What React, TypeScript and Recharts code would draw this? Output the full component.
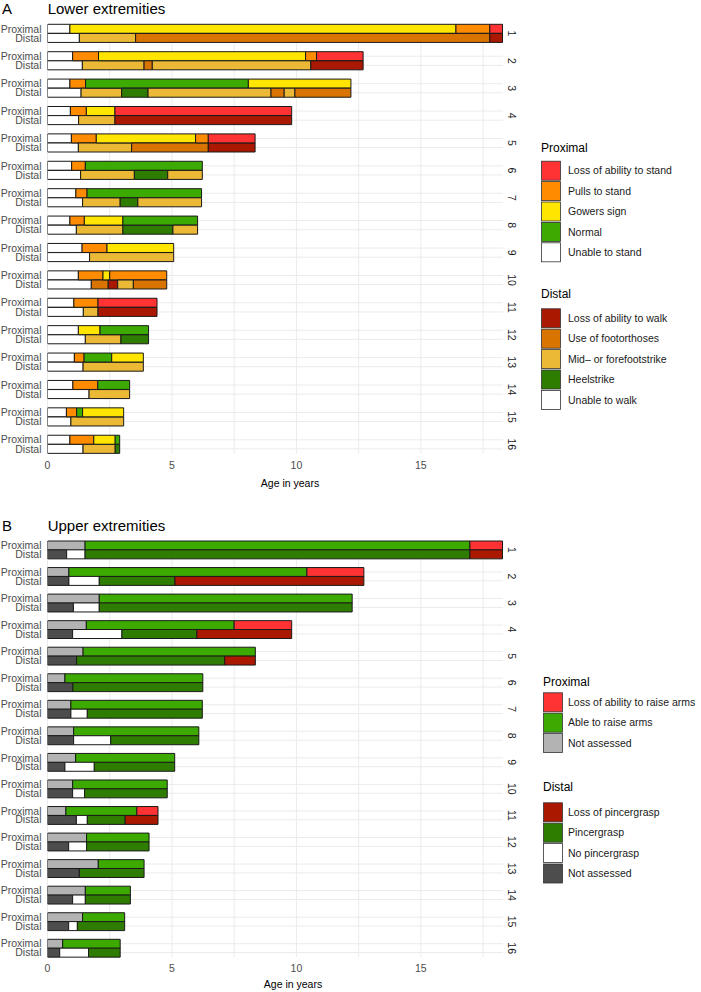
import { BarChart, Bar, Cell, XAxis, YAxis, CartesianGrid } from 'recharts';

type Seg = [string, number];
type LegendItem = { key: string; label: string; color: string };

const patients = ['1', '2', '3', '4', '5', '6', '7', '8', '9', '10', '11', '12', '13', '14', '15', '16'];
const ageTicks = [0, 5, 10, 15];
const gridAges = [0, 2.5, 5, 7.5, 10, 12.5, 15, 17.5];
const maxAge = 18.3;

const lowerProximalLegend: LegendItem[] = [
  { key: 'L', label: 'Loss of ability to stand', color: '#ff3333' },
  { key: 'P', label: 'Pulls to stand', color: '#ff8c00' },
  { key: 'G', label: 'Gowers sign', color: '#ffe500' },
  { key: 'N', label: 'Normal', color: '#3caa00' },
  { key: 'U', label: 'Unable to stand', color: '#ffffff' },
];

const lowerDistalLegend: LegendItem[] = [
  { key: 'L', label: 'Loss of ability to walk', color: '#aa1800' },
  { key: 'F', label: 'Use of footorthoses', color: '#d97400' },
  { key: 'M', label: 'Mid\u2013 or forefootstrike', color: '#ebb935' },
  { key: 'H', label: 'Heelstrike', color: '#2e7d00' },
  { key: 'U', label: 'Unable to walk', color: '#ffffff' },
];

const upperProximalLegend: LegendItem[] = [
  { key: 'L', label: 'Loss of ability to raise arms', color: '#ff3333' },
  { key: 'A', label: 'Able to raise arms', color: '#3caa00' },
  { key: 'N', label: 'Not assessed', color: '#b3b3b3' },
];

const upperDistalLegend: LegendItem[] = [
  { key: 'L', label: 'Loss of pincergrasp', color: '#aa1800' },
  { key: 'P', label: 'Pincergrasp', color: '#2e7d00' },
  { key: 'W', label: 'No pincergrasp', color: '#ffffff' },
  { key: 'N', label: 'Not assessed', color: '#4d4d4d' },
];

// each segment: [state, age at end of segment]
const lowerProximal: Seg[][] = [
  [['U', 0.9], ['G', 16.41], ['P', 17.77], ['L', 18.28]],
  [['U', 1.01], ['P', 2.05], ['G', 10.37], ['P', 10.81], ['L', 12.68]],
  [['U', 0.9], ['P', 1.53], ['N', 8.07], ['G', 12.19]],
  [['U', 0.92], ['P', 1.56], ['G', 2.71], ['L', 9.81]],
  [['U', 0.96], ['P', 1.96], ['G', 5.95], ['P', 6.46], ['L', 8.34]],
  [['U', 0.97], ['P', 1.52], ['N', 6.22]],
  [['U', 1.14], ['P', 1.59], ['N', 6.19]],
  [['U', 0.9], ['P', 1.48], ['G', 3.03], ['N', 6.03]],
  [['U', 1.39], ['P', 2.39], ['G', 5.07]],
  [['U', 1.24], ['P', 2.23], ['G', 2.5], ['P', 4.79]],
  [['U', 1.06], ['P', 2.03], ['L', 4.4]],
  [['U', 1.24], ['G', 2.11], ['N', 4.06]],
  [['U', 1.08], ['P', 1.47], ['N', 2.58], ['G', 3.85]],
  [['U', 1.02], ['P', 2.02], ['N', 3.3]],
  [['U', 0.76], ['P', 1.17], ['N', 1.41], ['G', 3.06]],
  [['U', 0.9], ['P', 1.86], ['G', 2.72], ['N', 2.9]],
];

const lowerDistal: Seg[][] = [
  [['U', 1.28], ['M', 3.54], ['F', 17.77], ['L', 18.28]],
  [['U', 1.4], ['M', 3.88], ['F', 4.21], ['M', 10.58], ['L', 12.68]],
  [['U', 1.35], ['M', 2.98], ['H', 4.04], ['M', 8.98], ['F', 9.51], ['M', 9.94], ['F', 12.19]],
  [['U', 1.25], ['M', 2.71], ['L', 9.81]],
  [['U', 1.24], ['M', 3.38], ['F', 6.46], ['L', 8.34]],
  [['U', 1.33], ['M', 3.49], ['H', 4.83], ['M', 6.22]],
  [['U', 1.41], ['M', 2.92], ['H', 3.63], ['M', 6.19]],
  [['U', 1.16], ['M', 3.03], ['H', 5.04], ['M', 6.03]],
  [['U', 1.69], ['M', 5.07]],
  [['U', 1.76], ['F', 2.44], ['L', 2.82], ['M', 3.45], ['F', 4.79]],
  [['U', 1.44], ['M', 2.03], ['L', 4.4]],
  [['U', 1.52], ['M', 2.95], ['H', 4.06]],
  [['U', 1.43], ['M', 3.85]],
  [['U', 1.67], ['M', 3.3]],
  [['U', 0.94], ['M', 3.06]],
  [['U', 1.43], ['M', 2.72], ['H', 2.9]],
];

const upperProximal: Seg[][] = [
  [['N', 1.51], ['A', 16.97], ['L', 18.28]],
  [['N', 0.86], ['A', 10.42], ['L', 12.71]],
  [['N', 2.08], ['A', 12.24]],
  [['N', 1.56], ['A', 7.5], ['L', 9.81]],
  [['N', 1.43], ['A', 8.35]],
  [['N', 0.7], ['A', 6.24]],
  [['N', 0.94], ['A', 6.22]],
  [['N', 1.05], ['A', 6.08]],
  [['N', 1.13], ['A', 5.11]],
  [['N', 1.01], ['A', 4.81]],
  [['N', 0.74], ['A', 3.59], ['L', 4.44]],
  [['N', 1.57], ['A', 4.08]],
  [['N', 2.04], ['A', 3.88]],
  [['N', 1.52], ['A', 3.33]],
  [['N', 1.41], ['A', 3.1]],
  [['N', 0.61], ['A', 2.92]],
];

const upperDistal: Seg[][] = [
  [['N', 0.77], ['W', 1.51], ['P', 16.97], ['L', 18.28]],
  [['N', 0.86], ['W', 2.08], ['P', 5.12], ['L', 12.71]],
  [['N', 1.04], ['W', 2.08], ['P', 12.24]],
  [['N', 1.01], ['W', 2.99], ['P', 6.0], ['L', 9.81]],
  [['N', 1.17], ['P', 7.12], ['L', 8.35]],
  [['N', 1.02], ['P', 6.24]],
  [['N', 0.94], ['W', 1.6], ['P', 6.22]],
  [['N', 1.05], ['W', 2.54], ['P', 6.08]],
  [['N', 0.7], ['W', 1.88], ['P', 5.11]],
  [['N', 1.01], ['W', 1.49], ['P', 4.81]],
  [['N', 1.16], ['W', 1.6], ['P', 3.12], ['L', 4.44]],
  [['N', 0.85], ['W', 1.57], ['P', 4.08]],
  [['N', 1.28], ['P', 3.88]],
  [['N', 1.01], ['W', 1.52], ['P', 3.33]],
  [['N', 0.85], ['W', 1.2], ['P', 3.1]],
  [['N', 0.49], ['W', 1.65], ['P', 2.92]],
];

const FONT = '"Liberation Sans", Arial, Helvetica, sans-serif';
const PLOT_LEFT = 47.5;
const PLOT_RIGHT = 503;
const NUM_X = 512;

const colorMap = (items: LegendItem[]) =>
  Object.fromEntries(items.map((d) => [d.key, d.color])) as Record<string, string>;

function makeRow(name: string, segs: Seg[], colors: Record<string, string>) {
  const r: any = { row: name, fills: [] as string[] };
  let prev = 0;
  segs.forEach(([k, end], j) => {
    r[`s${j}`] = +(end - prev).toFixed(3);
    r.fills.push(colors[k]);
    prev = end;
  });
  return r;
}

function buildRows(prox: Seg[][], dist: Seg[][], pLeg: LegendItem[], dLeg: LegendItem[]) {
  const pc = colorMap(pLeg);
  const dc = colorMap(dLeg);
  const rows: any[] = [];
  patients.forEach((p, i) => {
    rows.push(makeRow(`${p}|Proximal`, prox[i], pc));
    rows.push(makeRow(`${p}|Distal`, dist[i], dc));
    if (i < patients.length - 1) rows.push({ row: `${p}|gap`, fills: [] });
  });
  return rows;
}

const lowerRows = buildRows(lowerProximal, lowerDistal, lowerProximalLegend, lowerDistalLegend);
const upperRows = buildRows(upperProximal, upperDistal, upperProximalLegend, upperDistalLegend);

function Panel({ rows, top, height, marginTop, marginBottom }: any) {
  const plotH = height - marginTop - marginBottom - 30;
  const band = plotH / rows.length;
  const nSeg = Math.max(...rows.map((r: any) => r.fills.length));
  const plotW = PLOT_RIGHT - PLOT_LEFT;

  const hPoints = rows.flatMap((r: any, i: number) =>
    r.row.endsWith('gap') ? [] : [marginTop + (i + 0.5) * band]
  );
  const vPoints = gridAges.map((a) => PLOT_LEFT + (a / maxAge) * plotW);

  const renderTick = (props: any) => {
    const { x, y, payload } = props;
    const [p, kind] = String(payload.value).split('|');
    if (kind === 'gap') return <g />;
    return (
      <g>
        <text x={x} y={y} dy="0.35em" textAnchor="end" fontSize={10.5} fill="#4d4d4d" fontFamily={FONT}>
          {kind}
        </text>
        {kind === 'Distal' && (
          <text
            transform={`translate(${NUM_X}, ${y - band / 2}) rotate(90)`}
            textAnchor="middle"
            dy="0.35em"
            fontSize={10.5}
            fill="#1a1a1a"
            fontFamily={FONT}
          >
            {p}
          </text>
        )}
      </g>
    );
  };

  return (
    <div style={{ position: 'absolute', left: 0, top }}>
      <BarChart
        width={701}
        height={height}
        data={rows}
        layout="vertical"
        barCategoryGap={0}
        barGap={0}
        margin={{ top: marginTop, right: 701 - PLOT_RIGHT, bottom: marginBottom, left: 0 }}
      >
        <CartesianGrid stroke="#ebebeb" horizontalPoints={hPoints} verticalPoints={vPoints} />
        <XAxis
          type="number"
          domain={[0, maxAge]}
          ticks={ageTicks}
          allowDataOverflow
          height={30}
          tickLine={false}
          axisLine={false}
          tick={{ fontSize: 10.5, fill: '#4d4d4d', fontFamily: FONT }}
        />
        <YAxis
          type="category"
          dataKey="row"
          width={PLOT_LEFT}
          interval={0}
          tickLine={false}
          axisLine={false}
          tickMargin={0}
          tick={renderTick}
        />
        {Array.from({ length: nSeg }, (_, i) => (
          <Bar
            key={i}
            dataKey={`s${i}`}
            stackId="a"
            stroke="#1a1a1a"
            strokeWidth={1}
            isAnimationActive={false}
          >
            {rows.map((r: any, j: number) => (
              <Cell key={j} fill={r.fills[i] ?? 'none'} />
            ))}
          </Bar>
        ))}
      </BarChart>
    </div>
  );
}

function LegendBlock({ x, titleY, firstY, title, items }: any) {
  return (
    <g fontFamily={FONT}>
      <text x={x} y={titleY} fontSize={12} fill="#000">
        {title}
      </text>
      {items.map((d: LegendItem, i: number) => {
        const cy = firstY + i * 20.4;
        return (
          <g key={d.label}>
            <rect x={x + 0.5} y={cy - 9.5} width={19} height={19} fill={d.color} stroke="#333" strokeWidth={0.8} />
            <text x={568} y={cy} dy="0.35em" fontSize={10.5} fill="#1a1a1a">
              {d.label}
            </text>
          </g>
        );
      })}
    </g>
  );
}

export default function App() {
  return (
    <div style={{ position: 'absolute', left: 0, top: 0, width: 701, height: 992, background: '#fff', fontFamily: FONT }}>
      <Panel rows={lowerRows} top={0} height={500} marginTop={24.3} marginBottom={16.5} />
      <Panel rows={upperRows} top={500} height={492} marginTop={41} marginBottom={5} />
      <svg width={701} height={992} style={{ position: 'absolute', left: 0, top: 0, pointerEvents: 'none' }}>
        <g fontFamily={FONT} fill="#000">
          <text x={2} y={14} fontSize={15}>A</text>
          <text x={47.7} y={14} fontSize={15}>Lower extremities</text>
          <text x={290} y={487} fontSize={10.5} textAnchor="middle">Age in years</text>
          <text x={2} y={531} fontSize={15}>B</text>
          <text x={47.7} y={531} fontSize={15}>Upper extremities</text>
          <text x={293} y={988} fontSize={10.5} textAnchor="middle">Age in years</text>
        </g>
        <LegendBlock x={541} titleY={152.3} firstY={170.7} title="Proximal" items={lowerProximalLegend} />
        <LegendBlock x={541} titleY={298.3} firstY={318.3} title="Distal" items={lowerDistalLegend} />
        <LegendBlock x={543} titleY={686} firstY={702.3} title="Proximal" items={upperProximalLegend} />
        <LegendBlock x={543} titleY={790.7} firstY={812.3} title="Distal" items={upperDistalLegend} />
      </svg>
    </div>
  );
}
